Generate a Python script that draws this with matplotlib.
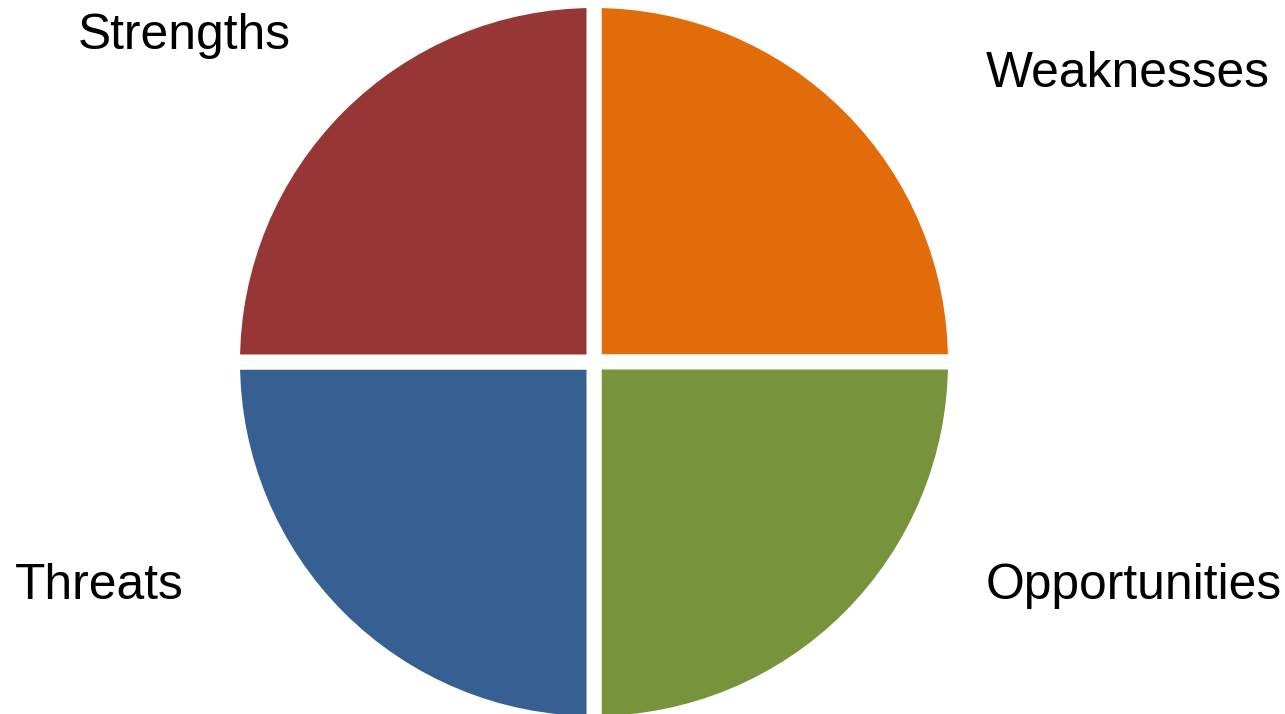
import matplotlib
matplotlib.use("Agg")
import matplotlib.pyplot as plt

labels = ["Weaknesses", "Opportunities", "Threats", "Strengths"]
values = [25, 25, 25, 25]
colors = ["#E36C0A", "#77933C", "#366092", "#963735"]
# label anchor (left, baseline) in pixels from top-left
label_pos = {"Strengths": (78, 49), "Weaknesses": (986, 87),
             "Threats": (15, 599), "Opportunities": (986, 599)}

W, H = 1285, 714
fig = plt.figure(figsize=(W / 100, H / 100), dpi=100)
ax = fig.add_axes([0, 0, 1, 1])
ax.set_xlim(0, W)
ax.set_ylim(0, H)
ax.set_aspect("equal")
ax.axis("off")

gap_px = 15
ax.pie(values, colors=colors, startangle=90, counterclock=False,
       center=(594, H - 362), radius=354 + gap_px / 2,
       wedgeprops=dict(edgecolor="white", linewidth=gap_px * 72 / 100))
ax.set_xlim(0, W)
ax.set_ylim(0, H)

for lab in labels:
    x, y = label_pos[lab]
    fig.text(x / W, 1 - y / H, lab, ha="left", va="baseline",
             fontsize=35.8, family=["Liberation Sans", "DejaVu Sans"], color="black")

fig.savefig("out.png", dpi=100)
